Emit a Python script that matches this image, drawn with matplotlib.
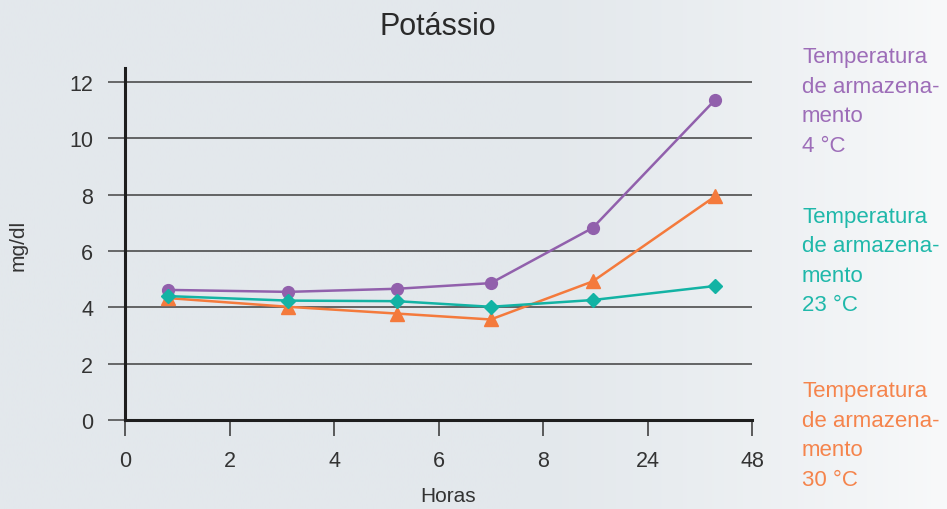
import numpy as np
import matplotlib
matplotlib.use("Agg")
import matplotlib.pyplot as plt
from matplotlib.colors import to_rgb

plt.rcParams['font.family'] = ['Liberation Sans', 'DejaVu Sans']

# Sampling times (category positions on the axis) and tick labels
x_pos = [0.82, 3.12, 5.2, 7.0, 8.95, 11.3]
tick_pos = [0, 2, 4, 6, 8, 10, 12]
tick_labels = ["0", "2", "4", "6", "8", "24", "48"]

# Potassium (mg/dl) by storage temperature
k_4c = [4.62, 4.55, 4.66, 4.86, 6.82, 11.38]
k_23c = [4.40, 4.24, 4.22, 4.02, 4.26, 4.76]
k_30c = [4.33, 4.02, 3.78, 3.57, 4.92, 7.95]

series_labels = [
    "Temperatura\nde armazena-\nmento\n4 °C",
    "Temperatura\nde armazena-\nmento\n23 °C",
    "Temperatura\nde armazena-\nmento\n30 °C",
]

purple, teal, orange = "#9160AC", "#13B3A4", "#F47A3C"
text_colors = ["#9D6DB8", "#1FB8AA", "#F5844C"]

W, H, DPI = 947, 510, 100
fig = plt.figure(figsize=(W / DPI, H / DPI), dpi=DPI)

# soft background gradient, lightening toward the right edge
bg = fig.add_axes([0, 0, 1, 1], zorder=-10)
bg.set_axis_off()
c0 = np.array(to_rgb("#E3E8EC"))
c1 = np.array(to_rgb("#F8F9FA"))
t = np.linspace(0, 1, 400)
t = np.clip((t - 0.55) / 0.45, 0, 1) ** 1.3
grad = c0[None, :] * (1 - t[:, None]) + c1[None, :] * t[:, None]
bg.imshow(grad[None, :, :], aspect="auto", extent=[0, 1, 0, 1])
bg.set_xlim(0, 1)
bg.set_ylim(0, 1)

ax = fig.add_axes([125 / W, 1 - 421 / H, (752 - 125) / W, (421 - 69) / H])
ax.set_facecolor("none")

ax.set_xlim(0, 12)
ax.set_ylim(0, 12.5)
ax.set_yticks([0, 2, 4, 6, 8, 10, 12])
ax.set_xticks(tick_pos)
ax.set_xticklabels(tick_labels)

for y in [2, 4, 6, 8, 10, 12]:
    ax.axhline(y, color="#3f3f3f", lw=1.1, zorder=1)

for s in ["top", "right"]:
    ax.spines[s].set_visible(False)
for s in ["left", "bottom"]:
    ax.spines[s].set_color("#1e1e1e")
    ax.spines[s].set_linewidth(2.2)

ax.tick_params(axis="y", direction="out", length=12, width=1.1, color="#444444",
               pad=11, labelsize=15.5, labelcolor="#333333")
ax.tick_params(axis="x", direction="out", length=11.5, width=1.1, color="#333333",
               pad=10, labelsize=15.5, labelcolor="#333333")

lw = 1.8
ax.plot(x_pos, k_4c, color=purple, lw=lw, marker="o", ms=8.5, zorder=3, clip_on=False)
ax.plot(x_pos, k_23c, color=teal, lw=lw, marker="D", ms=7.5, zorder=4, clip_on=False)
ax.plot(x_pos, k_30c, color=orange, lw=lw, marker="^", ms=10, zorder=3, clip_on=False)

fig.text(438 / W, 1 - 27 / H, "Potássio", ha="center", va="center",
         fontsize=22, color="#2a2a2a")
fig.text(18 / W, 1 - 245 / H, "mg/dl", ha="center", va="center", rotation=90,
         fontsize=15, color="#333333")
fig.text(448 / W, 1 - 497 / H, "Horas", ha="center", va="center",
         fontsize=15, color="#333333")

for label, col, yc in zip(series_labels, text_colors, [102, 261.5, 436]):
    fig.text(802 / W, 1 - yc / H, label, ha="left", va="center", fontsize=16,
             color=col, linespacing=1.53)

fig.savefig("out.png", dpi=DPI)
